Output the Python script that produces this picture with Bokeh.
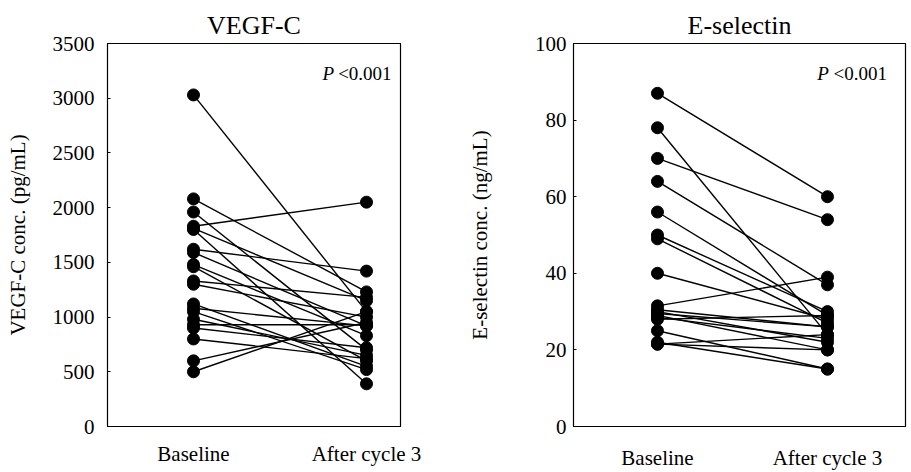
from bokeh.plotting import figure
from bokeh.layouts import row
from bokeh.models import FixedTicker, Label, Range1d
from bokeh.embed import file_html
from bokeh.resources import INLINE

# ---- data ----
groups = ["Baseline", "After cycle 3"]

vegf_baseline = [3030, 2080, 1960, 1830, 1810, 1800, 1620, 1590, 1480, 1460,
                 1330, 1300, 1120, 1080, 1050, 980, 930, 900, 800, 600, 500]
vegf_after = [1050, 1230, 700, 2050, 1150, 390, 1420, 920, 830, 600,
              1180, 1000, 550, 920, 520, 650, 930, 720, 620, 950, 1050]

esel_baseline = [87, 78, 70, 64, 56, 50, 49, 40, 31.5, 30.5, 30, 29.5, 29,
                 28.5, 28, 25, 22, 21.5, 21.5]
esel_after = [60, 24, 54, 37, 29, 30, 27, 28, 39, 26, 22, 26, 20,
              23, 29, 15, 15, 24, 20]

vegf_ticks = [0, 500, 1000, 1500, 2000, 2500, 3000, 3500]
esel_ticks = [0, 20, 40, 60, 80, 100]

FONT = "Liberation Serif"


def make_panel(title, base, after, ticks, ylabel, w, h, bl, br, bt, bb,
               xs, xe, ptext_x, ptext_y, tick_standoff, label_standoff,
               x_standoff):
    p = figure(width=w, height=h, output_backend="svg", toolbar_location=None,
               x_range=Range1d(xs, xe), y_range=Range1d(ticks[0], ticks[-1]),
               min_border_left=bl, min_border_right=br,
               min_border_top=bt, min_border_bottom=bb)
    p.title.text = title
    p.title.align = "center"
    p.title.text_font = FONT
    p.title.text_font_size = "26px"
    p.title.text_font_style = "normal"
    p.title.text_color = "black"
    p.title.standoff = 7

    p.xgrid.visible = False
    p.ygrid.visible = False
    p.outline_line_color = "black"
    p.outline_line_width = 1.2
    p.background_fill_color = "white"
    p.border_fill_color = "white"

    n = len(base)
    p.segment(x0=[0] * n, y0=base, x1=[1] * n, y1=after,
              line_color="black", line_width=1.4)
    p.scatter([0] * n, base, size=12, color="black")
    p.scatter([1] * n, after, size=12, color="black")

    xa = p.xaxis[0]
    xa.ticker = FixedTicker(ticks=[0, 1])
    xa.major_label_overrides = {0: groups[0], 1: groups[1]}
    xa.major_tick_in = 0
    xa.major_tick_out = 0
    xa.minor_tick_line_color = None
    xa.major_label_standoff = x_standoff
    xa.major_label_text_font = FONT
    xa.major_label_text_font_size = "21px"
    xa.major_label_text_color = "black"
    xa.axis_line_color = "black"

    ya = p.yaxis[0]
    ya.ticker = FixedTicker(ticks=ticks)
    ya.major_tick_in = 3
    ya.major_tick_out = 0
    ya.minor_tick_line_color = None
    ya.major_label_standoff = tick_standoff
    ya.major_label_text_font = FONT
    ya.major_label_text_font_size = "21px"
    ya.major_label_text_color = "black"
    ya.axis_label = ylabel
    ya.axis_label_text_font = FONT
    ya.axis_label_text_font_size = "21px"
    ya.axis_label_text_font_style = "normal"
    ya.axis_label_text_color = "black"
    ya.axis_label_standoff = label_standoff
    ya.axis_line_color = "black"

    px, px2 = ptext_x
    p.add_layout(Label(x=px, y=ptext_y, text="P", text_font=FONT,
                       text_font_size="19px", text_font_style="italic",
                       text_baseline="middle", text_align="left", text_color="black"))
    p.add_layout(Label(x=px2, y=ptext_y, text="<0.001", text_font=FONT,
                       text_font_size="19px", text_baseline="middle",
                       text_align="left", text_color="black"))
    return p


p1 = make_panel("VEGF-C", vegf_baseline, vegf_after, vegf_ticks,
                "VEGF-C conc. (pg/mL)", 455, 472, 107, 55, 43, 41,
                -0.497, 1.1965, (0.746, 0.836), 3225, 13, 20, 15)
p2 = make_panel("E-selectin", esel_baseline, esel_after, esel_ticks,
                "E-selectin conc. (ng/mL)", 456, 472, 118, 6, 43, 45,
                -0.494, 1.459, (0.94, 1.035), 92.2, 7, 40, 19)

layout = row(p1, p2)
open("out.html", "w").write(file_html(layout, INLINE))
